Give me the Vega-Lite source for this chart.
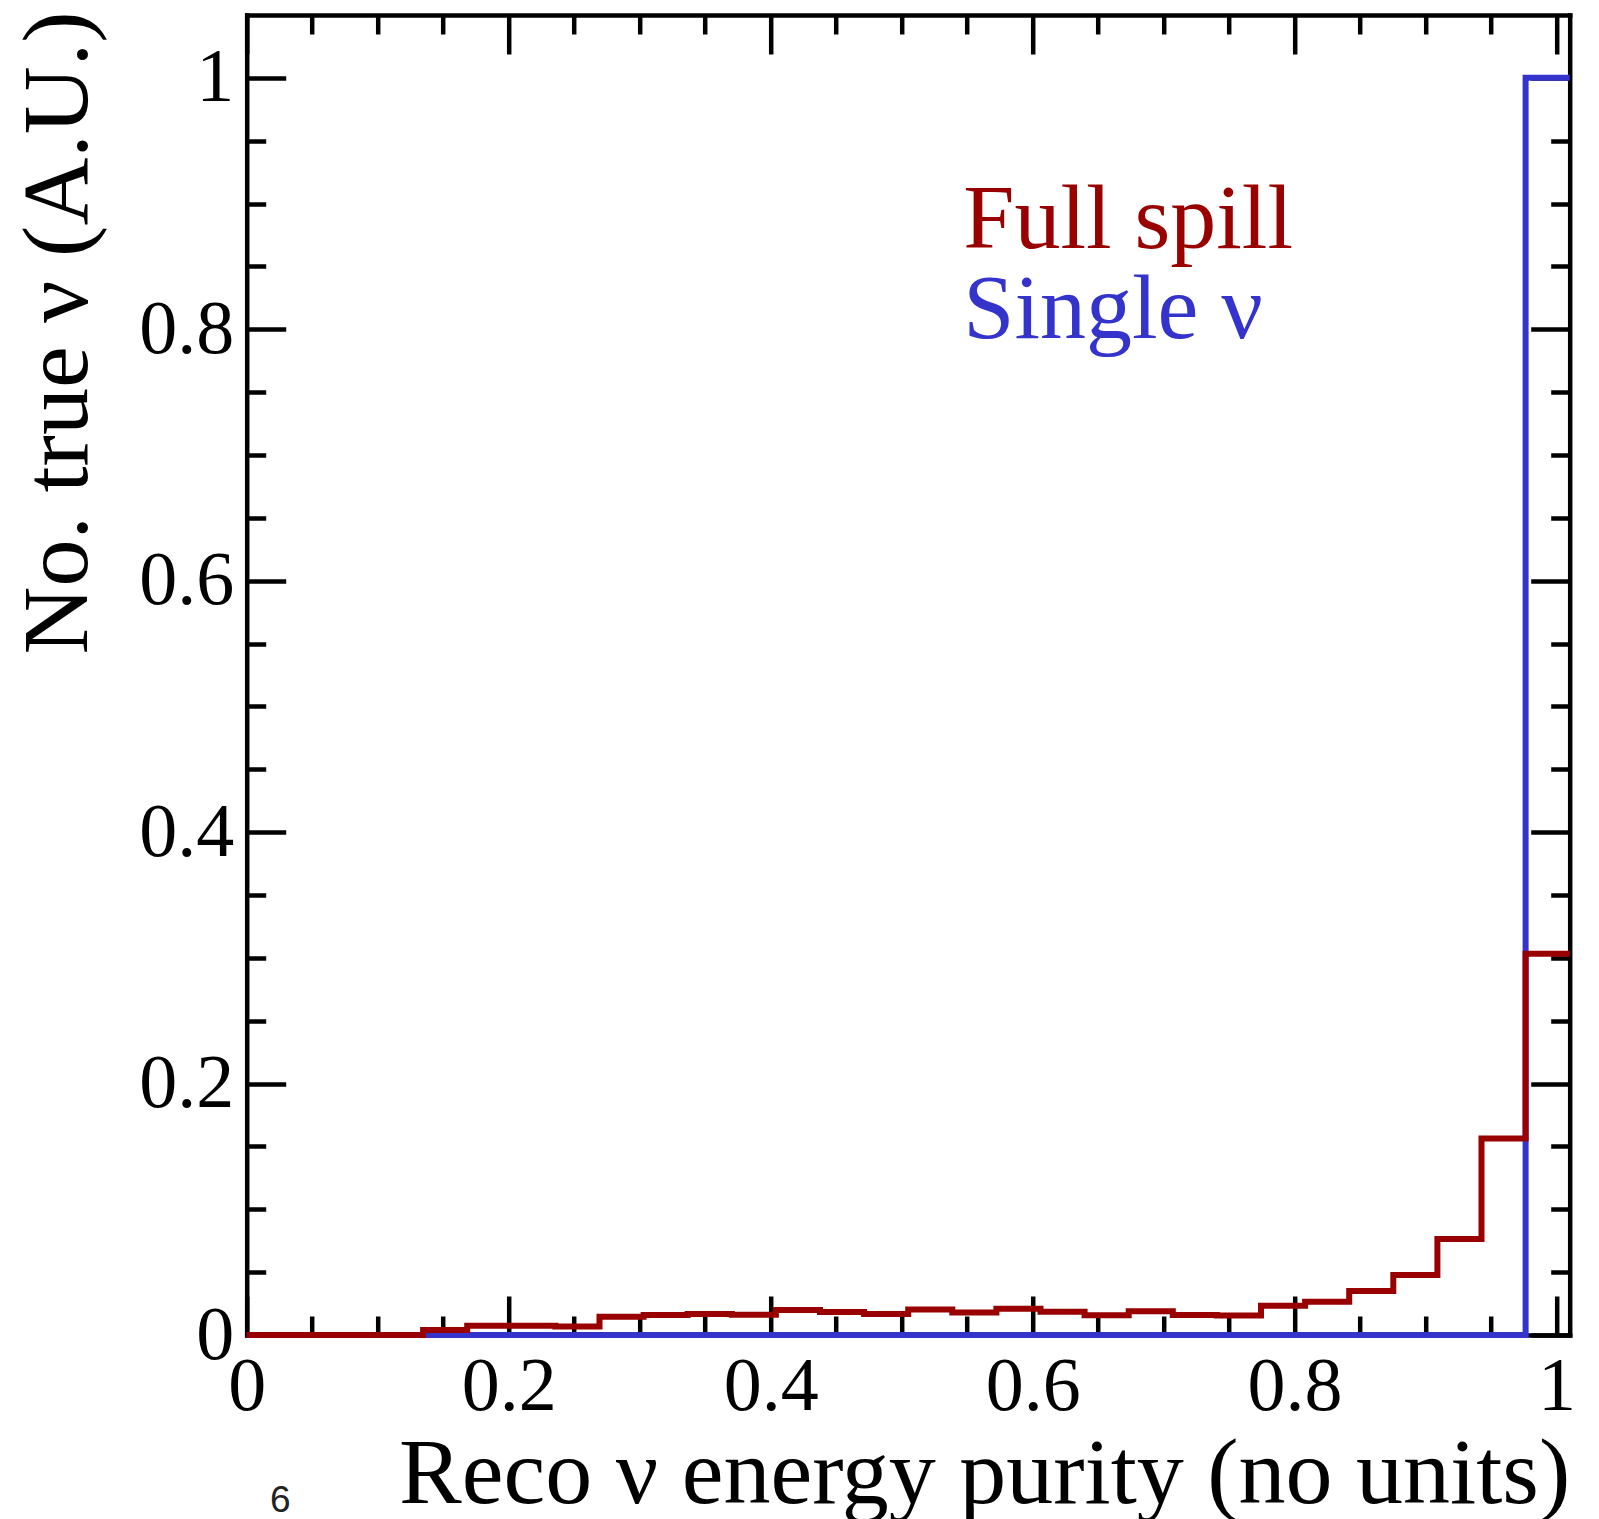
{
  "$schema": "https://vega.github.io/schema/vega-lite/v6.json",
  "width": 1323,
  "height": 1320,
  "autosize": {"type": "none"},
  "padding": {"left": 246.7, "top": 15, "right": 29.3, "bottom": 184},
  "background": "white",
  "config": {
    "view": {"stroke": null},
    "axis": {
      "grid": false,
      "zindex": 1,
      "tickColor": "black",
      "tickWidth": 4.5,
      "tickCap": "butt",
      "domainColor": "black",
      "domainWidth": 4.5,
      "domainCap": "square",
      "labelFont": "Liberation Serif",
      "labelFontSize": 76,
      "labelColor": "black",
      "titleFont": "Liberation Serif",
      "titleFontSize": 94,
      "titleFontWeight": "normal",
      "titleColor": "black",
      "labelFlush": false,
      "labelOverlap": false,
      "format": "~g"
    }
  },
  "datasets": {
    "full": [
      {"purity": 0.0, "count": 0.0},
      {"purity": 0.033667, "count": 0.0},
      {"purity": 0.067333, "count": 0.0},
      {"purity": 0.101, "count": 0.0},
      {"purity": 0.134667, "count": 0.004},
      {"purity": 0.168333, "count": 0.0074},
      {"purity": 0.202, "count": 0.0074},
      {"purity": 0.235667, "count": 0.0068},
      {"purity": 0.269333, "count": 0.0146},
      {"purity": 0.303, "count": 0.016},
      {"purity": 0.336667, "count": 0.0167},
      {"purity": 0.370333, "count": 0.0162},
      {"purity": 0.404, "count": 0.0199},
      {"purity": 0.437667, "count": 0.0183},
      {"purity": 0.471333, "count": 0.0167},
      {"purity": 0.505, "count": 0.0203},
      {"purity": 0.538667, "count": 0.0179},
      {"purity": 0.572333, "count": 0.0208},
      {"purity": 0.606, "count": 0.0185},
      {"purity": 0.639667, "count": 0.0157},
      {"purity": 0.673333, "count": 0.0188},
      {"purity": 0.707, "count": 0.0159},
      {"purity": 0.740667, "count": 0.0156},
      {"purity": 0.774333, "count": 0.0233},
      {"purity": 0.808, "count": 0.0265},
      {"purity": 0.841667, "count": 0.035},
      {"purity": 0.875333, "count": 0.0477},
      {"purity": 0.909, "count": 0.0764},
      {"purity": 0.942667, "count": 0.1564},
      {"purity": 0.976333, "count": 0.3032},
      {"purity": 1.01, "count": 0.3032}
    ],
    "single": [
      {"purity": 0.0, "count": 0.0},
      {"purity": 0.033667, "count": 0.0},
      {"purity": 0.067333, "count": 0.0},
      {"purity": 0.101, "count": 0.0},
      {"purity": 0.134667, "count": 0.0},
      {"purity": 0.168333, "count": 0.0},
      {"purity": 0.202, "count": 0.0},
      {"purity": 0.235667, "count": 0.0},
      {"purity": 0.269333, "count": 0.0},
      {"purity": 0.303, "count": 0.0},
      {"purity": 0.336667, "count": 0.0},
      {"purity": 0.370333, "count": 0.0},
      {"purity": 0.404, "count": 0.0},
      {"purity": 0.437667, "count": 0.0},
      {"purity": 0.471333, "count": 0.0},
      {"purity": 0.505, "count": 0.0},
      {"purity": 0.538667, "count": 0.0},
      {"purity": 0.572333, "count": 0.0},
      {"purity": 0.606, "count": 0.0},
      {"purity": 0.639667, "count": 0.0},
      {"purity": 0.673333, "count": 0.0},
      {"purity": 0.707, "count": 0.0},
      {"purity": 0.740667, "count": 0.0},
      {"purity": 0.774333, "count": 0.0},
      {"purity": 0.808, "count": 0.0},
      {"purity": 0.841667, "count": 0.0},
      {"purity": 0.875333, "count": 0.0},
      {"purity": 0.909, "count": 0.0},
      {"purity": 0.942667, "count": 0.0},
      {"purity": 0.976333, "count": 1.0},
      {"purity": 1.01, "count": 1.0}
    ]
  },
  "layer": [
    {
      "data": {"name": "single"},
      "mark": {"type": "line", "interpolate": "step-after", "color": "#3434CC", "strokeWidth": 6, "strokeJoin": "miter", "strokeCap": "butt"},
      "encoding": {
        "x": {"field": "purity", "type": "quantitative",
              "scale": {"domain": [0, 1.01], "nice": false, "zero": false},
              "axis": {"orient": "top", "values": [0, 0.2, 0.4, 0.6, 0.8, 1], "tickSize": -39, "labels": false, "title": null, "domain": true}},
        "y": {"field": "count", "type": "quantitative",
              "scale": {"domain": [0, 1.05], "nice": false},
              "axis": {"orient": "right", "values": [0, 0.2, 0.4, 0.6, 0.8, 1], "tickSize": -39, "labels": false, "title": null, "domain": true}}
      }
    },
    {
      "data": {"name": "full"},
      "mark": {"type": "line", "interpolate": "step-after", "color": "#990000", "strokeWidth": 6, "strokeJoin": "miter", "strokeCap": "butt"},
      "encoding": {
        "x": {"field": "purity", "type": "quantitative",
              "scale": {"domain": [0, 1.01], "nice": false, "zero": false},
              "axis": {"orient": "bottom", "values": [0, 0.2, 0.4, 0.6, 0.8, 1], "tickSize": -39, "labels": true, "labelPadding": 53, "labelBaseline": "top",
                       "title": "Reco ν energy purity (no units)", "titleX": 1323, "titleY": 167, "titleAlign": "right", "titleBaseline": "alphabetic", "titleAnchor": "end", "domain": true}},
        "y": {"field": "count", "type": "quantitative",
              "scale": {"domain": [0, 1.05], "nice": false},
              "axis": {"orient": "left", "values": [0, 0.2, 0.4, 0.6, 0.8, 1], "tickSize": -39, "labels": true, "labelPadding": 52,
                       "title": "No. true ν (A.U.)", "titleX": -160, "titleY": -4, "titleAngle": 270, "titleAlign": "right", "titleBaseline": "alphabetic", "titleAnchor": "end", "domain": true}}
      }
    },
    {
      "data": {"values": [{"label": "Full spill"}]},
      "mark": {"type": "text", "align": "left", "baseline": "alphabetic", "font": "Liberation Serif", "fontSize": 92, "color": "#990000"},
      "encoding": {
        "text": {"field": "label"},
        "x": {"datum": 0.547, "type": "quantitative",
              "scale": {"domain": [0, 1.01], "nice": false, "zero": false},
              "axis": {"orient": "bottom", "values": [0.05, 0.1, 0.15, 0.25, 0.3, 0.35, 0.45, 0.5, 0.55, 0.65, 0.7, 0.75, 0.85, 0.9, 0.95], "tickSize": -19, "labels": false, "title": null, "domain": false}},
        "y": {"datum": 0.865, "type": "quantitative",
              "scale": {"domain": [0, 1.05], "nice": false},
              "axis": {"orient": "left", "values": [0.05, 0.1, 0.15, 0.25, 0.3, 0.35, 0.45, 0.5, 0.55, 0.65, 0.7, 0.75, 0.85, 0.9, 0.95], "tickSize": -19, "labels": false, "title": null, "domain": false}}
      }
    },
    {
      "data": {"values": [{"label": "Single ν"}]},
      "mark": {"type": "text", "align": "left", "baseline": "alphabetic", "font": "Liberation Serif", "fontSize": 92, "color": "#3434CC"},
      "encoding": {
        "text": {"field": "label"},
        "x": {"datum": 0.547, "type": "quantitative",
              "scale": {"domain": [0, 1.01], "nice": false, "zero": false},
              "axis": {"orient": "top", "values": [0.05, 0.1, 0.15, 0.25, 0.3, 0.35, 0.45, 0.5, 0.55, 0.65, 0.7, 0.75, 0.85, 0.9, 0.95], "tickSize": -19, "labels": false, "title": null, "domain": false}},
        "y": {"datum": 0.793, "type": "quantitative",
              "scale": {"domain": [0, 1.05], "nice": false},
              "axis": {"orient": "right", "values": [0.05, 0.1, 0.15, 0.25, 0.3, 0.35, 0.45, 0.5, 0.55, 0.65, 0.7, 0.75, 0.85, 0.9, 0.95], "tickSize": -19, "labels": false, "title": null, "domain": false}}
      }
    },
    {
      "data": {"values": [{"label": "6"}]},
      "mark": {"type": "text", "align": "left", "baseline": "alphabetic", "font": "Liberation Sans", "fontSize": 37, "color": "#222222"},
      "encoding": {
        "text": {"field": "label"},
        "x": {"datum": 0.0178, "type": "quantitative", "scale": {"domain": [0, 1.01], "nice": false, "zero": false}, "axis": null},
        "y": {"datum": -0.1406, "type": "quantitative", "scale": {"domain": [0, 1.05], "nice": false}, "axis": null}
      }
    }
  ],
  "resolve": {"axis": {"x": "independent", "y": "independent"}}
}
